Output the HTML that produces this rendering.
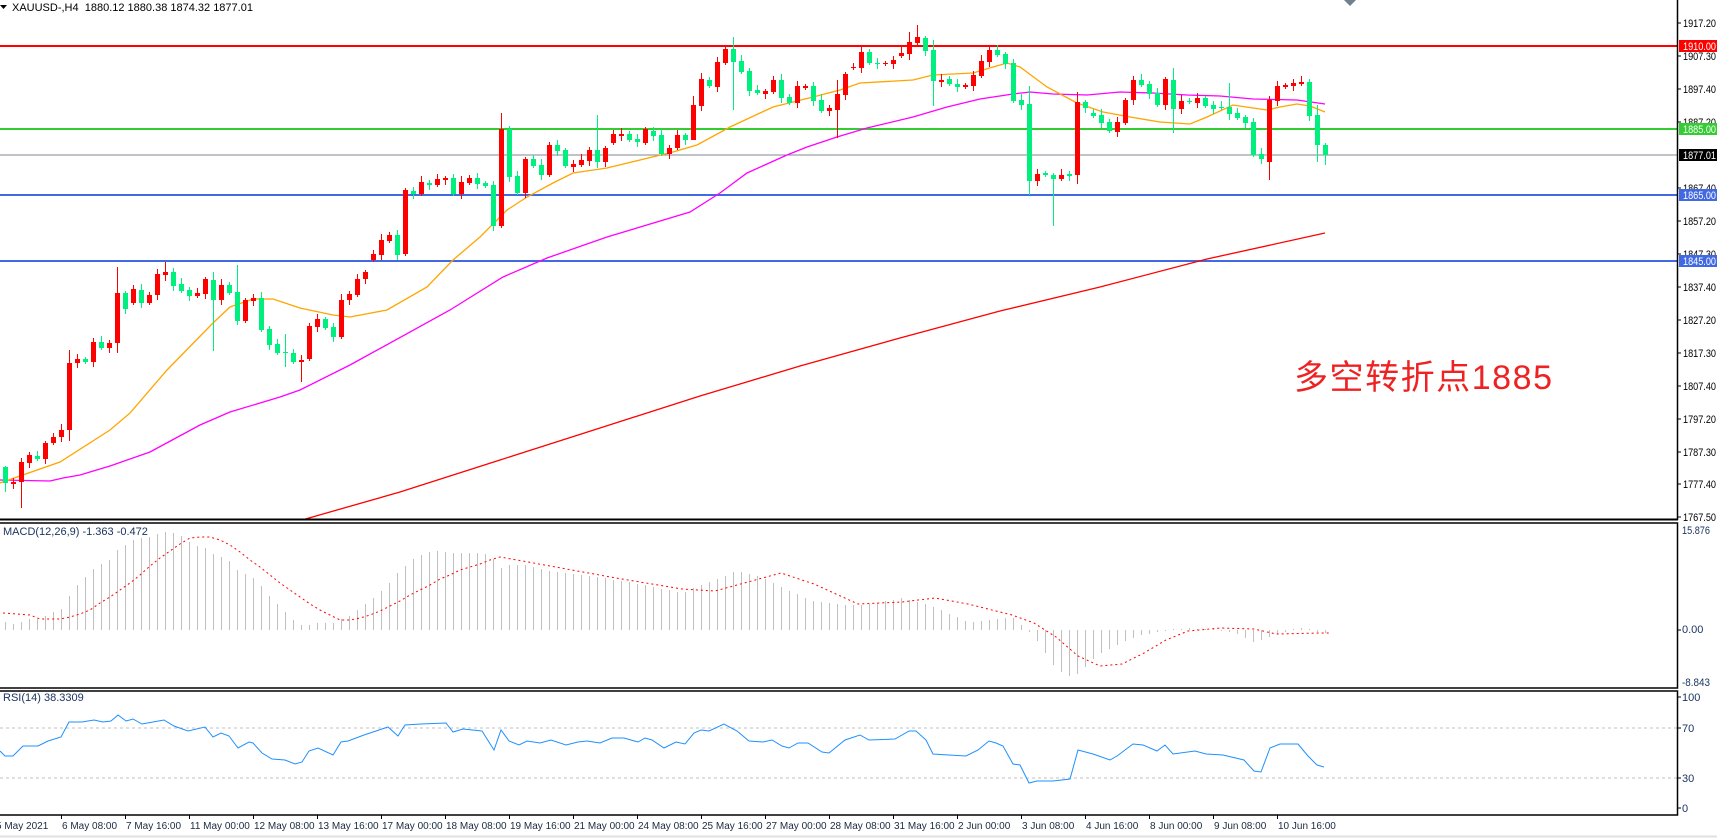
<!DOCTYPE html>
<html><head><meta charset="utf-8"><style>
html,body{margin:0;padding:0;background:#fff;width:1717px;height:838px;overflow:hidden}
svg{display:block}
text{font-family:"Liberation Sans","DejaVu Sans",sans-serif;font-size:11px}
</style></head><body>
<svg id="s" width="1717" height="838" xmlns="http://www.w3.org/2000/svg"></svg>
<script>
var S=document.getElementById('s'),o='';
function L(x1,y1,x2,y2,c,w,extra){o+='<line x1="'+x1+'" y1="'+y1+'" x2="'+x2+'" y2="'+y2+'" stroke="'+c+'" stroke-width="'+(w||1)+'" '+(extra||'')+'/>';}
function R(x,y,w,h,c){o+='<rect x="'+x+'" y="'+y+'" width="'+w+'" height="'+h+'" fill="'+c+'"/>';}
function T(x,y,t,c,extra){o+='<text x="'+x+'" y="'+y+'" fill="'+(c||'#000')+'" '+(extra||'')+'>'+t+'</text>';}
function P(pts,c,w,extra){o+='<polyline fill="none" stroke="'+c+'" stroke-width="'+(w||1)+'" '+(extra||'')+' points="'+pts.map(function(p){return p[0]+','+p[1]}).join(' ')+'"/>';}
L(0,46,1677,46,'#ff0000',2);
L(0,129,1677,129,'#33cc33',2);
L(0,155,1677,155,'#808890',1);
L(0,195,1677,195,'#4169e1',2);
L(0,261,1677,261,'#4169e1',2);
P([[302,520],[400,492],[500,460],[600,428],[700,396],[800,366],[900,338],[1000,311],[1100,287],[1207,259],[1325,233]],'#ff0000',1.3);
P([[0,480],[50,481],[63,478],[80,475],[110,466],[150,452],[200,425],[230,412],[280,397],[300,390],[350,365],[450,310],[503,277],[547,258],[607,237],[690,212],[720,193],[747,173],[787,155],[807,147],[837,137],[867,128],[913,117],[947,107],[980,99],[1013,94],[1030,92],[1053,94],[1087,95],[1120,92],[1153,93],[1187,95],[1220,96],[1253,99],[1297,100],[1325,104]],'#ff00ff',1.3);
P([[0,483],[60,462],[110,430],[130,413],[167,370],[213,323],[230,307],[253,299],[273,299],[300,308],[333,315],[350,317],[387,310],[427,287],[453,260],[480,237],[507,210],[527,197],[553,183],[573,173],[607,168],[640,160],[673,152],[697,145],[730,127],[773,107],[813,97],[840,90],[860,83],[913,80],[933,75],[973,73],[993,67],[1007,63],[1020,67],[1047,87],[1077,103],[1103,112],[1130,117],[1160,122],[1190,124],[1207,117],[1233,105],[1253,108],[1267,110],[1280,107],[1297,104],[1310,106],[1325,112]],'#ffa500',1.3);
var D="467,483,g;482,484,r;462,482,r;455,463,r;456,459,g;443,459,r;437,443,r;430,437,r;363,430,r;359,363,r;359,362,g;342,362,r;342,348,g;343,348,r;293,343,r;293,309,g;289,303,r;290,303,g;295,303,r;274,295,r;272,275,r;272,286,g;284,291,g;290,296,g;293,296,r;279,294,r;280,300,g;285,300,r;285,293,g;292,321,g;300,321,r;298,301,r;298,330,g;329,345,g;344,353,g;352,353,g;353,362,g;360,362,r;326,359,r;319,327,r;319,328,g;327,337,g;300,337,r;294,300,r;279,295,r;272,279,r;254,260,r;240,255,r;235,241,r;235,255,g;190,254,r;191,194,g;182,194,r;183,185,g;179,185,r;178,180,r;178,194,g;182,194,r;178,183,r;178,184,g;183,186,g;185,226,g;129,226,r;129,177,g;176,193,g;159,193,r;159,166,g;165,175,g;145,175,r;145,151,g;150,166,g;164,167,r;160,165,r;150,161,r;150,162,g;148,162,r;134,143,r;134,136,r;134,140,g;139,142,g;129,143,r;131,136,g;135,154,g;148,154,r;135,148,r;135,140,g;105,140,r;79,106,r;80,86,g;62,87,r;49,63,r;49,62,g;61,72,g;71,91,g;90,93,g;91,94,r;80,92,r;80,98,g;97,103,g;86,103,r;86,88,r;86,101,g;100,111,g;108,111,r;94,110,r;74,95,r;67,68,r;52,68,r;52,63,g;63,64,g;63,64,r;60,64,r;53,56,r;42,54,r;37,43,r;38,51,g;50,81,g;80,82,r;79,84,g;84,87,g;85,87,r;75,86,r;61,76,r;50,62,r;50,55,g;54,64,g;63,101,g;100,105,g;104,181,g;174,181,r;173,175,g;175,179,g;175,179,r;174,176,g;102,175,r;102,108,g;113,116,g;115,123,g;122,131,g;122,132,r;100,123,r;80,100,r;80,85,g;84,94,g;93,105,g;79,105,r;80,109,g;101,109,r;101,102,g;98,103,r;98,106,g;105,109,g;107,108,g;107,114,g;113,118,g;117,123,g;122,155,g;154,159,g;100,162,r;86,101,r;85,87,r;83,86,r;82,84,r;82,116,g;115,145,g;145,155,g".split(';');
var W={0:[466,492],2:[458,508],8:[350,441],14:[267,353],20:[262,281],26:[272,351],29:[265,325],35:[334,367],37:[355,382],62:[113,228],74:[115,168],128:[86,195],131:[173,226],134:[92,184],146:[68,133],158:[96,180],114:[25,47],113:[32,60],91:[37,110],116:[40,106],86:[96,139],104:[80,138],153:[83,120],164:[105,162],165:[143,165]};
D.forEach(function(s,i){var a=s.split(','),t=+a[0],b=+a[1],c=a[2]=='r'?'#ff0000':'#00f080';var x=5+8*i;
 var h=W[i]?W[i][0]:t-(2+(i*7)%5),l=W[i]?W[i][1]:b+(2+(i*3)%6);
 R(x,h,1,l-h,c);R(x-2,t,5,Math.max(1,b-t),c);});
o+='<text x="1294" y="389" textLength="258" lengthAdjust="spacing" fill="#ee2222" style="font-family:\'Liberation Sans\',\'Noto Sans CJK SC\',sans-serif;font-size:34px">多空转折点1885</text>';
o+='<polygon points="0,5 7,5 3.5,9" fill="#000"/>';
T(12,11,'XAUUSD-,H4&#160;&#160;1880.12 1880.38 1874.32 1877.01','#000');
o+='<polygon points="1344,0 1350,-6 1356,0 1350,6" fill="#708090"/>';
var hv=[622,624,622,619,619,616,612,609,596,585,577,569,564,560,550,545,540,538,537,534,532,533,536,542,546,548,554,557,561,570,574,578,586,596,604,612,620,625,625,623,623,623,619,616,610,604,598,591,583,573,566,559,555,552,551,552,553,553,553,553,554,559,568];
var pv=[[5,560],[40,562],[60,545],[80,520],[100,500],[130,490],[150,487],[180,492],[200,500],[220,515],[240,535],[260,555],[280,570],[300,572],[320,568],[340,560],[360,530],[380,510],[400,500],[420,503],[440,510],[460,515],[480,515],[500,520],[540,525],[580,532],[620,540],[650,528],[670,520],[690,525],[710,535],[740,548],[780,552],[820,545],[840,550],[860,558],[880,567],[900,565],[920,562],[940,580],[960,610],[975,618],[1000,595],[1020,585],[1040,578],[1060,575],[1080,572],[1100,574],[1120,576],[1140,585],[1160,578],[1180,572],[1200,576],[1210,577]];
function interp(a,x){for(var k=0;k<a.length-1;k++){if(x<=a[k+1][0]){var f=(x-a[k][0])/(a[k+1][0]-a[k][0]);return a[k][1]+f*(a[k+1][1]-a[k][1]);}}return a[a.length-1][1];}
for(var i=0;i<166;i++){var x=5+8*i,y;if(i<hv.length)y=hv[i];else y=630+(interp(pv,x/1.1)-574)*1.096;
 y=Math.round(y);if(Math.abs(y-630)<1)y=629;L(x+0.5,630,x+0.5,y,'#c0c0c0',1);}
var sg=[[3,613],[30,615],[40,619],[60,619],[70,617],[80,614],[90,610],[100,603],[110,597],[120,590],[130,583],[140,575],[150,566],[160,558],[170,551],[180,544],[190,538],[200,537],[210,537],[220,540],[230,545],[240,552],[250,560],[260,567],[270,575],[280,583],[290,590],[300,597],[310,604],[320,610],[330,615],[340,620],[350,620],[360,618],[370,615],[380,611],[390,606],[400,601],[410,595],[420,590],[430,585],[440,579],[450,575],[460,570],[470,567],[480,564],[490,560],[500,557]];
var sp=[[460,508],[500,516],[560,527],[620,537],[650,538],[680,530],[710,522],[740,532],[780,550],[820,548],[850,545],[880,550],[920,560],[940,568],[960,580],[980,598],[1000,607],[1020,605],[1040,595],[1060,583],[1080,575],[1110,572],[1140,573],[1160,578],[1200,577],[1210,577]];
sp.forEach(function(p){var x=p[0]*1.1;if(x>505)sg.push([Math.round(x),Math.round(630+(p[1]-574)*1.096)]);});
P(sg,'#ff0000',1,'stroke-dasharray="2,3"');
L(0,728,1677,728,'#c0c0c0',1,'stroke-dasharray="3,3"');
L(0,778,1677,778,'#c0c0c0',1,'stroke-dasharray="3,3"');
var rs=[[0,751],[5,756],[13,756],[23,746],[38,746],[48,741],[61,737],[69,722],[82,722],[94,720],[103,722],[111,721],[118,715],[126,721],[133,719],[142,724],[153,722],[164,720],[174,726],[188,731],[205,727],[213,737],[221,733],[229,736],[238,748],[249,742],[253,743],[262,753],[272,759],[285,760],[295,764],[302,762],[309,751],[318,748],[333,755],[341,742],[348,741],[364,735],[379,730],[388,727],[398,736],[405,725],[421,724],[446,723],[453,732],[463,729],[482,731],[494,750],[501,730],[509,741],[519,745],[527,741],[540,743],[551,740],[566,745],[578,742],[587,741],[600,743],[612,738],[624,738],[638,742],[645,738],[652,740],[664,748],[676,742],[685,744],[694,733],[701,730],[709,731],[724,724],[737,731],[749,741],[763,742],[772,740],[782,746],[789,748],[798,743],[808,743],[822,752],[829,753],[845,740],[860,735],[869,740],[895,739],[909,731],[916,731],[926,740],[933,754],[949,755],[966,756],[978,750],[989,741],[996,743],[1003,746],[1013,764],[1020,765],[1029,783],[1037,781],[1053,781],[1070,779],[1078,750],[1093,754],[1110,760],[1117,756],[1133,744],[1143,745],[1157,751],[1165,745],[1173,754],[1195,751],[1206,754],[1223,755],[1244,760],[1254,771],[1261,772],[1270,748],[1280,744],[1298,744],[1308,756],[1317,765],[1324,767]];
P(rs,'#1e90ff',1);
L(0,519.5,1678,519.5,'#000',2);
o+='<rect x="-1" y="523" width="1678.5" height="165" fill="none" stroke="#000" stroke-width="1.5"/>';
o+='<rect x="-1" y="691" width="1678.5" height="124" fill="none" stroke="#000" stroke-width="1.5"/>';
L(1677.5,0,1677.5,520,'#000',1.5);
L(0,836.5,1717,836.5,'#e0e0e0',2);
T(3,535,'MACD(12,26,9) -1.363 -0.472','#1a3560');
T(3,701,'RSI(14) 38.3309','#1a3560');
var TL='textLength="33" lengthAdjust="spacingAndGlyphs"';
var pl=[['1917.20',23],['1907.30',56],['1897.40',89],['1887.20',122],['1867.40',188],['1857.20',221],['1847.30',254],['1837.40',287],['1827.20',320],['1817.30',353],['1807.40',386],['1797.20',419],['1787.30',452],['1777.40',484],['1767.50',517]];
pl.forEach(function(p){L(1678,p[1],1681,p[1],'#000',1);T(1683,p[1]+4,p[0],'#000',TL);});
function box(y,c,t,tc){R(1679,y-6,38,12,c);T(1683,y+4,t,tc||'#fff',TL);}
box(46,'#ff0000','1910.00');box(129,'#33cc33','1885.00');box(155,'#000','1877.01');box(195,'#4169e1','1865.00');box(261,'#4169e1','1845.00');
T(1682,534,'15.876','#1a3560','textLength="28" lengthAdjust="spacingAndGlyphs"');
T(1682,633,'0.00','#1a3560');
T(1682,686,'-8.843','#1a3560','textLength="28" lengthAdjust="spacingAndGlyphs"');
L(1678,630,1681,630,'#000',1);
[['100',701],['70',732],['30',782],['0',812]].forEach(function(p){T(1682,p[1],p[0],'#1a3560');L(1678,p[1]-4,1681,p[1]-4,'#000',1);});
var dl=['5 May 2021','6 May 08:00','7 May 16:00','11 May 00:00','12 May 08:00','13 May 16:00','17 May 00:00','18 May 08:00','19 May 16:00','21 May 00:00','24 May 08:00','25 May 16:00','27 May 00:00','28 May 08:00','31 May 16:00','2 Jun 00:00','3 Jun 08:00','4 Jun 16:00','8 Jun 00:00','9 Jun 08:00','10 Jun 16:00'];
dl.forEach(function(t,k){var x=-3+64*k;if(k>0)L(x+0.5,815,x+0.5,819,'#000',1);T(x+(k==0?-1:1),829,t,'#1a2a40','style="font-size:10px"');});
S.innerHTML=o;
</script>
</body></html>
